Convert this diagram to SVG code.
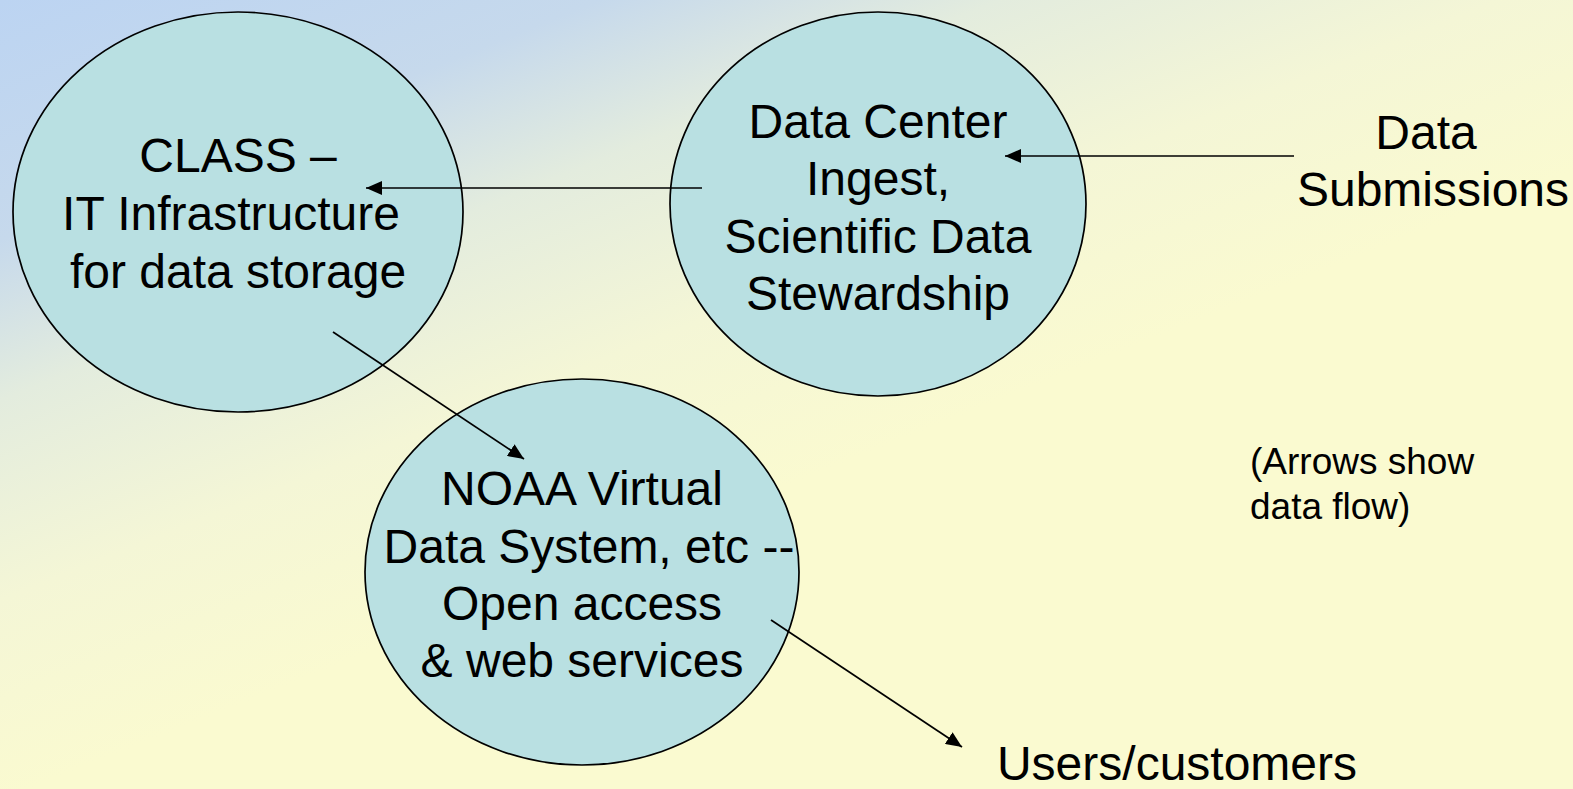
<svg xmlns="http://www.w3.org/2000/svg" width="1573" height="789" viewBox="0 0 1573 789">
<defs>
<linearGradient id="bg" gradientUnits="userSpaceOnUse" x1="0" y1="0" x2="276" y2="690">
<stop offset="0" stop-color="#bcd4f2"/>
<stop offset="0.3" stop-color="#c6d9ec"/>
<stop offset="0.5" stop-color="#e3ecde"/>
<stop offset="0.75" stop-color="#f4f6d6"/>
<stop offset="1" stop-color="#fafad0"/>
</linearGradient>
<marker id="ah" markerUnits="userSpaceOnUse" markerWidth="18" markerHeight="14" refX="16" refY="7" orient="auto">
<path d="M0,0 L16,7 L0,14 Z" fill="#000"/>
</marker>
<style>
.node{fill:#b9e0e2;stroke:#000;stroke-width:1.7}
.t{font-family:"Liberation Sans",Arial,sans-serif;font-size:48px;fill:#000;text-anchor:middle}
.s{font-family:"Liberation Sans",Arial,sans-serif;font-size:37px;fill:#000}
.c{stroke:#000;stroke-width:1.7;fill:none;marker-end:url(#ah)}
</style>
</defs>
<rect x="0" y="0" width="1573" height="789" fill="url(#bg)"/>
<g id="class">
<ellipse class="node" cx="238" cy="212" rx="225" ry="200"/>
<text class="t" x="238" y="172">CLASS –</text>
<text class="t" x="231" y="230">IT Infrastructure</text>
<text class="t" x="238" y="288">for data storage</text>
</g>
<g id="datacenter">
<ellipse class="node" cx="878" cy="204" rx="208" ry="192"/>
<text class="t" x="878" y="138">Data Center</text>
<text class="t" x="878" y="195">Ingest,</text>
<text class="t" x="878" y="253">Scientific Data</text>
<text class="t" x="878" y="310">Stewardship</text>
</g>
<g id="noaa">
<ellipse class="node" cx="582" cy="572" rx="217" ry="193"/>
<text class="t" x="582" y="505">NOAA Virtual</text>
<text class="t" x="589" y="563">Data System, etc --</text>
<text class="t" x="582" y="620">Open access</text>
<text class="t" x="582" y="677">&amp; web services</text>
</g>
<g id="submissions">
<text class="t" x="1426" y="149">Data</text>
<text class="t" x="1433" y="206">Submissions</text>
</g>
<g id="users">
<text class="t" x="1177" y="780">Users/customers</text>
</g>
<g id="note">
<text class="s" x="1250" y="474">(Arrows show</text>
<text class="s" x="1250" y="519">data flow)</text>
</g>
<g id="connectors">
<line class="c" x1="702" y1="188" x2="366" y2="188"/>
<line class="c" x1="1294" y1="156" x2="1005" y2="156"/>
<line class="c" x1="333" y1="332" x2="524" y2="459"/>
<line class="c" x1="771" y1="620" x2="962" y2="747"/>
</g>
</svg>
